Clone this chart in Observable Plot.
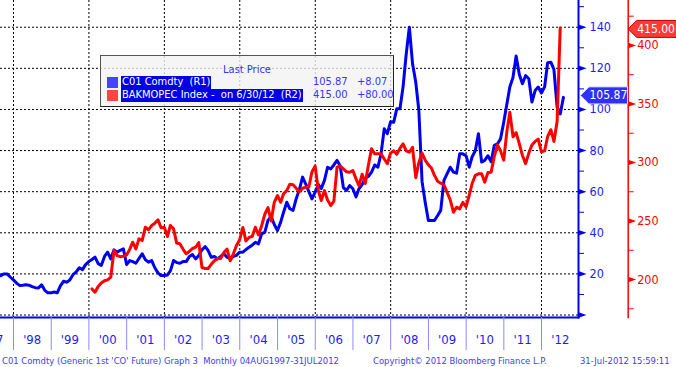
<!DOCTYPE html>
<html><head><meta charset="utf-8">
<script src="https://cdn.jsdelivr.net/npm/d3@7"></script>
<script src="https://cdn.jsdelivr.net/npm/@observablehq/plot@0.6"></script>
<style>
html,body{margin:0;padding:0;background:#fff;overflow:hidden;}
#wrap{position:relative;width:676px;height:367px;font-family:"DejaVu Sans Condensed","DejaVu Sans",sans-serif;}
#legend{position:absolute;left:100px;top:55px;width:294px;height:52px;background:rgba(242,242,242,0.8);border:1px solid #555;border-right-color:#222;border-bottom-color:#222;box-sizing:border-box;font-size:11px;color:#3535ff;}
#legend div,#legend span{position:absolute;white-space:pre;line-height:12px;}
.hl{background:#0000e6;color:#fff;padding:0 1px;}
#footer{position:absolute;left:0;top:352px;width:676px;height:15px;font-size:9.4px;color:#3d3dff;}
#footer span{position:absolute;top:3px;white-space:pre;}
</style></head><body>
<div id="wrap">
<div id="chart"></div>
<div id="legend"></div>
<div id="footer"></div>
</div>
<script>
// ---- data ----
// C01 Comdty (Brent, generic 1st future), month-end, Aug 1997 .. Jul 2012
const brent = [
 19.2, 20.0, 20.0, 18.5, 17.1,
 15.5, 14.4, 14.5, 14.7, 14.5, 13.8, 13.3, 13.2, 14.7, 12.0, 10.8, 10.8,
 11.2, 10.8, 14.2, 16.4, 16.0, 17.0, 19.6, 21.0, 23.0, 22.1, 24.5, 26.0,
 27.0, 28.2, 25.0, 24.1, 28.5, 30.6, 27.3, 31.7, 30.6, 31.5, 32.2, 24.6,
 26.5, 26.0, 25.2, 27.5, 29.8, 27.0, 25.7, 26.5, 23.0, 20.5, 19.2, 19.2,
 19.5, 21.5, 26.5, 25.5, 25.2, 26.0, 26.0, 28.5, 29.4, 27.3, 29.0, 31.7,
 33.3, 31.4, 28.1, 28.5, 27.3, 28.5, 29.8, 28.1, 27.3, 28.5, 29.0, 30.6,
 30.6, 31.8, 33.0, 34.0, 35.4, 34.6, 39.5, 40.3, 46.0, 47.9, 44.0, 41.1,
 45.2, 50.0, 54.9, 51.7, 50.9, 56.5, 61.0, 67.1, 63.8, 60.0, 56.5, 59.8,
 63.5, 61.5, 65.5, 71.9, 71.1, 73.0, 75.2, 72.5, 62.0, 60.6, 63.0, 61.4,
 57.5, 61.4, 63.5, 66.5, 67.5, 69.5, 73.0, 71.9, 78.5, 90.6, 88.2, 94.0,
 93.8, 100.3, 100.3, 110.9, 127.1, 140.0, 122.2, 113.3, 99.5, 65.0, 55.0, 46.0,
 46.0, 46.0, 48.4, 50.9, 65.5, 68.7, 71.9, 69.5, 69.0, 78.4, 78.4, 77.5,
 71.9, 77.0, 80.0, 88.2, 74.4, 75.2, 77.5, 74.6, 82.5, 83.2, 85.7, 93.8,
 102.8, 110.9, 115.7, 126.0, 117.0, 112.5, 116.5, 114.9, 103.6, 109.2, 110.9, 108.0,
 111.0, 122.7, 123.0, 119.5, 101.1, 97.8, 105.87
];
// BAKMOPEC Index, month-end, Jan 2000 .. Jun 2012
const bakmopec = [
 192, 189.2, 194, 197, 199, 199.7, 202, 224.8, 220.5, 219.5, 220, 221,
 226, 231.9, 226.2, 234.8, 233.3, 244.7, 242.5, 246.2, 248, 251, 244.2, 244.7,
 236.8, 246.2, 243.3, 231.1, 230.5, 226, 222, 224, 226.5, 227.6, 231.6, 210.3,
 209.4, 209.4, 213, 216, 218, 218, 223, 226, 216, 222, 229, 234,
 244.5, 233, 236, 236.8, 244.7, 238, 246, 256, 261.5, 250, 266, 271.8,
 266, 273.3, 276, 281.5, 281, 278, 275, 278, 279, 279, 292, 297,
 276, 267.5, 276, 268, 263.2, 267, 296, 297, 294.6, 292, 291.7, 293.2,
 286, 280.3, 290, 282, 298, 311.7, 307.4, 307.4, 307.4, 303, 298.9, 308,
 310, 307, 312, 316, 310, 308.8, 313, 287, 300, 308, 302, 298,
 295, 289, 284, 282.3, 281, 274.6, 268, 257.5, 261.8, 260.4, 266, 262,
 272, 282, 289, 290.3, 290.3, 283.2, 291.5, 291.7, 305, 315, 310, 302,
 327, 343, 322, 325.5, 316, 306, 299, 308, 315, 318, 320, 309,
 310, 322, 328, 318, 335, 415
];
const blueStart = [1997, 8];   // Aug 1997
const redStart = [2000, 1];    // Jan 2000
const yearLabels = ["'97","'98","'99","'00","'01","'02","'03","'04","'05","'06","'07","'08","'09","'10","'11","'12"];
const blueTicks = [0, 20, 40, 60, 80, 100, 120, 140];
const blueLabels = [20, 40, 60, 80, 100, 120, 140];
const blueMinor = [10, 30, 50, 70, 90, 110, 130, 150];
const redTicks = [200, 250, 300, 350, 400];
const redMinor = [175, 225, 275, 325, 375, 425];
const legendRows = [
  {name: "C01 Comdty  (R1)", last: "105.87", chg: "+8.07", color: "#4444ff"},
  {name: "BAKMOPEC Index -  on 6/30/12  (R2)", last: "415.00", chg: "+80.00", color: "#ff4444"}
];
const footerTexts = [
  {t: "C01 Comdty (Generic 1st 'CO' Future) Graph 3  Monthly 04AUG1997-31JUL2012", x: 2},
  {t: "Copyright\u00a9 2012 Bloomberg Finance L.P.", x: 373},
  {t: "31-Jul-2012 15:59:11", x: 580}
];

// ---- build ----
const monthEnd = (y, m, i) => new Date(Date.UTC(y, m - 1 + i + 1, 0));
const blueData = brent.map((v, i) => ({date: monthEnd(blueStart[0], blueStart[1], i), v}));
const redData = bakmopec.map((v, i) => ({date: monthEnd(redStart[0], redStart[1], i), v}));
// right axis (R2) mapped onto the R1 scale
const toBlue = r => 17.27 + 0.5693 * (r - 200);

const yearStarts = d3.range(1998, 2013).map(y => new Date(Date.UTC(y, 0, 1)));
const gridYears = d3.range(1998, 2013, 2).map(y => new Date(Date.UTC(y, 0, 1)));
const yearMids = yearLabels.map((s, i) => new Date(Date.UTC(1997 + i, 6, 1)));

const BLUE = "#0000f0", RED = "#ff0000", LBL = "#1c1cff";
const tri = {draw(ctx) { ctx.moveTo(0, -2.8); ctx.lineTo(8, 0); ctx.lineTo(0, 2.8); ctx.closePath(); }};
const tag = (w, h) => ({draw(ctx) { const k = h / 2; ctx.moveTo(0, 0); ctx.lineTo(k, -k); ctx.lineTo(w, -k); ctx.lineTo(w, k); ctx.lineTo(k, k); ctx.closePath(); }});
const RX = 49.7;
const lastBlue = blueData[blueData.length - 1];
const lastRed = redData[redData.length - 1];
const font = "DejaVu Sans Condensed, DejaVu Sans, sans-serif";

const chart = Plot.plot({
  width: 676, height: 352,
  marginLeft: 0, marginRight: 98, marginTop: 0, marginBottom: 35,
  style: {background: "#fff", fontFamily: font, fontSize: "12px", overflow: "visible"},
  x: {type: "utc", domain: [new Date(Date.UTC(1997, 7, 28)), new Date(Date.UTC(2012, 11, 24))], label: null},
  y: {domain: [-1.2, 153], label: null},
  marks: [
    Plot.ruleY(blueTicks, {stroke: "#000", strokeDasharray: "2,2", strokeWidth: 1}),
    Plot.ruleX(gridYears, {stroke: "#000", strokeDasharray: "2,2", strokeWidth: 1}),
    Plot.frame({anchor: "bottom", stroke: BLUE, strokeWidth: 2}),
    Plot.frame({anchor: "right", stroke: BLUE, strokeWidth: 2}),
    Plot.frame({anchor: "right", stroke: RED, strokeWidth: 1.5, dx: RX}),
    Plot.axisX(yearStarts, {anchor: "bottom", tickSize: 33, tickFormat: () => "", label: null, stroke: "#8a8aff"}),
    Plot.text(yearLabels, {x: (d, i) => yearMids[i], text: d => d, frameAnchor: "bottom", dy: 26, fill: LBL, fontSize: 13}),
    // R1 axis
    Plot.axisY(blueMinor, {anchor: "right", tickSize: 5, tickFormat: () => "", label: null, stroke: BLUE}),
    Plot.dot(blueTicks, {y: d => d, frameAnchor: "right", symbol: tri, r: 3, fill: BLUE, stroke: "none"}),
    Plot.text(blueLabels, {y: d => d, text: d => String(d), frameAnchor: "right", dx: 11, textAnchor: "start", fill: LBL, fontSize: 12.5}),
    // R2 axis
    Plot.axisY(redMinor.map(toBlue), {anchor: "right", tickSize: 5, dx: RX, tickFormat: () => "", label: null, stroke: RED}),
    Plot.dot(redTicks, {y: d => toBlue(d), frameAnchor: "right", dx: RX, symbol: tri, r: 3, fill: RED, stroke: "none"}),
    Plot.text(redTicks, {y: d => toBlue(d), text: d => String(d), frameAnchor: "right", dx: RX + 9, textAnchor: "start", fill: RED, fontSize: 12.5}),
    // series
    Plot.lineY(blueData, {x: "date", y: "v", stroke: BLUE, strokeWidth: 3, curve: "linear"}),
    Plot.lineY(redData, {x: "date", y: d => toBlue(d.v), stroke: RED, strokeWidth: 3, curve: "linear"}),
    // last value tags
    Plot.dot([lastBlue], {y: "v", frameAnchor: "right", dx: 2, dy: -2, symbol: tag(47, 17), r: 5, fill: "#2f2fff", stroke: "#d0d0ff", strokeWidth: 1}),
    Plot.text([lastBlue], {y: "v", text: d => d.v.toFixed(2), frameAnchor: "right", dx: 11, dy: -2, textAnchor: "start", fill: "#fff", fontSize: 12}),
    Plot.dot([lastRed], {y: d => toBlue(d.v), frameAnchor: "right", dx: RX, dy: 1, symbol: tag(52, 17), r: 5, fill: "#ff3838", stroke: "#c00000", strokeWidth: 1}),
    Plot.text([lastRed], {y: d => toBlue(d.v), text: d => d.v.toFixed(2), frameAnchor: "right", dx: RX + 9, dy: 1, textAnchor: "start", fill: "#fff", fontSize: 12})
  ]
});
document.getElementById("chart").appendChild(chart);

// legend
const lg = d3.select("#legend");
lg.append("div").style("left", "0").style("width", "100%").style("text-align", "center").style("top", "8px").text("Last Price");
legendRows.forEach((r, i) => {
  const top = 20 + i * 13;
  lg.append("div").style("left", "6px").style("top", (top + 1) + "px").style("width", "11px").style("height", "11px").style("background", r.color);
  lg.append("span").attr("class", "hl").style("left", "20px").style("top", top + "px").style("height", "12.5px").text(r.name);
  lg.append("span").style("left", "212px").style("top", top + "px").text(r.last);
  lg.append("span").style("left", "256px").style("top", top + "px").text(r.chg);
});
// footer
const ft = d3.select("#footer");
footerTexts.forEach(f => ft.append("span").style("left", f.x + "px").text(f.t));
</script>
</body></html>
